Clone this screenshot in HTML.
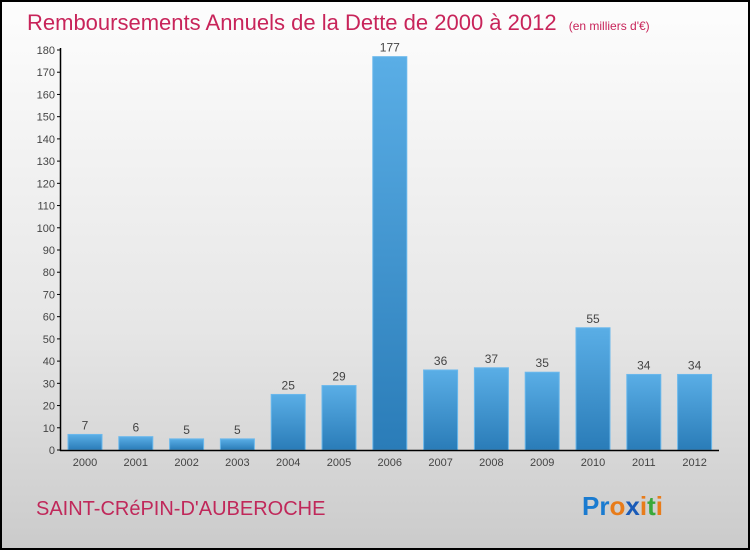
<!DOCTYPE html>
<html><head><meta charset="utf-8"><style>
html,body{margin:0;padding:0}
body{width:750px;height:550px;overflow:hidden;font-family:"Liberation Sans",sans-serif}
#wrap{position:absolute;left:0;top:0;width:746px;height:546px;border:2px solid #000;background:linear-gradient(#fdfdfd,#e6e6e6 60%,#cbcbcb)}
</style></head><body>
<div id="wrap">
<svg width="746" height="546" viewBox="2 2 746 546" id="svg">
<defs><linearGradient id="bg" x1="0" y1="0" x2="0" y2="1"><stop offset="0" stop-color="#5aaee6"/><stop offset="1" stop-color="#2a7cb8"/></linearGradient></defs>
<text x="27" y="30" font-size="22" fill="#c8245a">Remboursements Annuels de la Dette de 2000 à 2012 <tspan font-size="12" dx="6">(en milliers d'€)</tspan></text>
<g id="plot"></g>
<text x="36" y="515" font-size="20" fill="#c0285a">SAINT-CRéPIN-D'AUBEROCHE</text>
<text x="582" y="515" font-size="26" font-weight="bold"><tspan fill="#1a7bd0">Pr</tspan><tspan fill="#e87c1a">o</tspan><tspan fill="#1a5bb8">x</tspan><tspan fill="#e87c1a">i</tspan><tspan fill="#3aa83a">t</tspan><tspan fill="#e87c1a">i</tspan></text>
</svg></div>
<script>
const categories=["2000","2001","2002","2003","2004","2005","2006","2007","2008","2009","2010","2011","2012"];
const values=[7,6,5,5,25,29,177,36,37,35,55,34,34];
const yTicks=[0,10,20,30,40,50,60,70,80,90,100,110,120,130,140,150,160,170,180];
const NS="http://www.w3.org/2000/svg";
const g=document.getElementById('plot');
const y=v=>450-v*400/180;
const x=i=>85+i*50.8;
function mk(t,a,txt){const e=document.createElementNS(NS,t);for(const k in a)e.setAttribute(k,a[k]);if(txt!=null)e.textContent=txt;g.appendChild(e);return e;}
yTicks.forEach(t=>{
 const l=mk('line',{x1:57,x2:61,y1:y(t),y2:y(t),stroke:'#000'});
 
 
 const tx=mk('text',{x:55,y:y(t)+4,'font-size':11,fill:'#444','text-anchor':'end'},t);
 
 
});
values.forEach((v,i)=>{
 const r=mk('rect',{x:x(i)-17,y:y(v),width:34,height:450-y(v),fill:'url(#bg)',stroke:'#6ab8ec','stroke-width':1});
 
 
 const vl=mk('text',{x:x(i),y:y(v)-5,'font-size':12,fill:'#444','text-anchor':'middle'},v);
 
 
 const xl=mk('text',{x:x(i),y:466,'font-size':11,fill:'#444','text-anchor':'middle'},categories[i]);
 
 
});
const ya=mk('line',{x1:60.5,x2:60.5,y1:48,y2:451,stroke:'#000','stroke-width':1.5});


const xa=mk('line',{x1:60,x2:719,y1:450.5,y2:450.5,stroke:'#000','stroke-width':1.5});


</script>
</body></html>
